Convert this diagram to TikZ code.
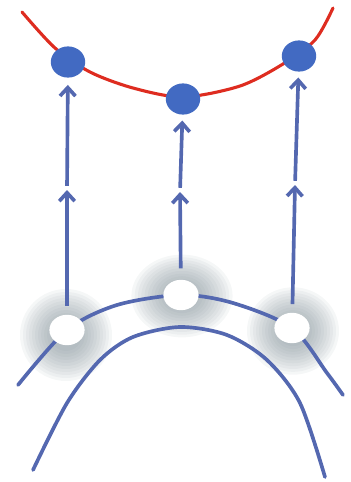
\documentclass[tikz,border=0pt]{standalone}
\usetikzlibrary{arrows.meta,shapes.geometric}
\definecolor{arcblue}{RGB}{84,104,176}
\definecolor{dotblue}{RGB}{66,106,194}
\definecolor{curvered}{RGB}{222,44,32}
\definecolor{glowgray}{RGB}{120,136,144}

\begin{document}
\begin{tikzpicture}[x=0.025cm, y=-0.025cm,
  dot/.style={ellipse, fill=dotblue, inner sep=0pt, minimum width=0.86cm, minimum height=0.78cm},
  hole/.style={ellipse, fill=white, inner sep=0pt, minimum width=0.88cm, minimum height=0.76cm},
  glowring/.style={fill=glowgray, opacity=0.07},
  arcline/.style={draw=arcblue, line width=2.6pt, line cap=round},
  redline/.style={draw=curvered, line width=2.2pt, line cap=round},
  link/.style={draw=arcblue, line width=2.6pt, -{Straight Barb[length=6pt,width=11pt]}}
]
  \useasboundingbox (0,0) rectangle (350,482);
  % where the white points sit
  \coordinate (pL) at (67,330);
  \coordinate (pM) at (181,295);
  \coordinate (pR) at (292,328);
  % glow round them
  \foreach \r in {46,43,...,16} {
    \fill[glowring] (66,335) ellipse ({\r} and {\r});
    \fill[glowring] (182,296) ellipse ({1.1*\r} and {0.9*\r});
    \fill[glowring] (293,331) ellipse ({\r} and {0.95*\r});
  }
  % the two blue arcs and the red curve
  \draw[arcline] plot[smooth] coordinates {(18,385) (pL) (117,305) (pM) (233,303) (pR) (327,373) (343,395)};
  \draw[arcline] plot[smooth] coordinates {(33,470) (67,403) (100,360) (133,337) (180,327) (227,335) (267,360) (300,403) (325,477)};
  \draw[redline] plot[smooth] coordinates {(22,12) (55,48) (90,72) (133,88) (183,97) (240,86) (283,64) (315,40) (333,8)};
  % points
  \node[hole] (wL) at (pL) {};
  \node[hole] (wM) at (pM) {};
  \node[hole] (wR) at (pR) {};
  \node[dot] (dL) at (68,62) {};
  \node[dot] (dM) at (183,99) {};
  \node[dot] (dR) at (299,56) {};
  \coordinate (mL) at (67,190);
  \coordinate (mM) at (180,192);
  \coordinate (mR) at (295,185);
  % arrows up
  \draw[link, shorten <=6pt] (wL) -- (mL);
  \draw[link, shorten <=8pt] (wM) -- (mM);
  \draw[link, shorten <=6pt] (wR) -- (mR);
  \draw[link, shorten <=3pt, shorten >=5pt] (mL) -- (dL);
  \draw[link, shorten <=3pt, shorten >=4pt] (mM) -- (dM);
  \draw[link, shorten <=3pt, shorten >=4pt] (mR) -- (dR);
\end{tikzpicture}
\end{document}
